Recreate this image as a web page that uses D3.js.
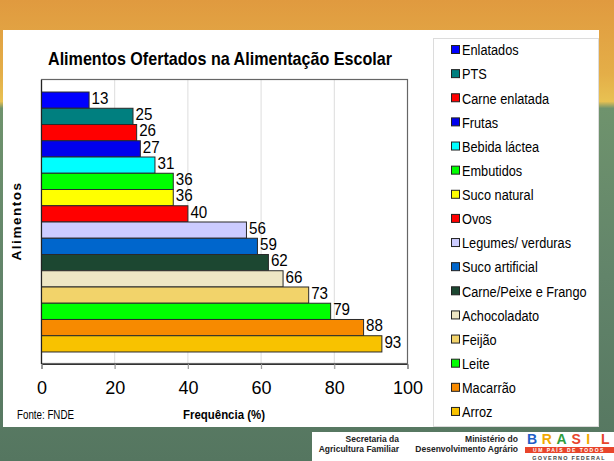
<!DOCTYPE html>
<html><head><meta charset="utf-8">
<script src="https://cdn.jsdelivr.net/npm/d3@7"></script>
<style>body{margin:0;padding:0;overflow:hidden;} svg{display:block;}</style>
</head><body><svg id="c" width="614" height="461"></svg>
<script>
const categories = ["Enlatados","PTS","Carne enlatada","Frutas","Bebida láctea","Embutidos","Suco natural","Ovos","Legumes/ verduras","Suco artificial","Carne/Peixe e Frango","Achocoladato","Feijão","Leite","Macarrão","Arroz"];
const values = [13,25,26,27,31,36,36,40,56,59,62,66,73,79,88,93];
const colors = ["#0000ff","#007f7f","#ff0000","#0000ee","#00ffff","#00ff00","#ffff00","#ff0000","#ccccff","#0066cc","#1c4731","#eee6c4","#f2d36a","#00ff00","#f78a00","#f8c200"];
const xTicks = [0,20,40,60,80,100];
const title = "Alimentos Ofertados na Alimentação Escolar";

const svg = d3.select("#c");
const F = "'Liberation Sans',Arial,sans-serif";
const NX = 0.85; // horizontal squeeze to imitate a narrow face

// background
const defs = svg.append("defs");
const g1 = defs.append("linearGradient").attr("id","bg").attr("x1",0).attr("y1",0).attr("x2",0).attr("y2",1);
[[0,"#e09a3f"],[0.16,"#e4ae48"],[0.22,"#e8c152"],[0.235,"#6f936d"],[0.6,"#62846a"],[1,"#557660"]].forEach(s=>g1.append("stop").attr("offset",s[0]).attr("stop-color",s[1]));
svg.append("rect").attr("width",614).attr("height",461).attr("fill","url(#bg)");

// white panel
svg.append("rect").attr("x",3).attr("y",30).attr("width",596).attr("height",397).attr("fill","#ffffff");
// legend box
svg.append("rect").attr("x",433.5).attr("y",38.5).attr("width",165).attr("height",388).attr("fill","#fff").attr("stroke","#dcdcdc");

const x = d3.scaleLinear().domain([0,100]).range([41,407]);
const y = d3.scaleBand().domain(categories).range([80,364]).paddingInner(0).paddingOuter(0.74);

// gridlines
svg.append("g").selectAll("line").data(xTicks.slice(1,5)).join("line")
  .attr("x1",d=>x(d)+0.5).attr("x2",d=>x(d)+0.5).attr("y1",80).attr("y2",369)
  .attr("stroke","#dddddd").attr("stroke-width",1);

// plot border
svg.append("rect").attr("x",41.5).attr("y",79.5).attr("width",x(100)-x(0)).attr("height",284)
  .attr("fill","none").attr("stroke","#666").attr("stroke-width",1.2);

// bars
svg.append("g").selectAll("rect").data(values).join("rect")
  .attr("x",x(0)+0.5).attr("y",(d,i)=>y(categories[i]))
  .attr("width",d=>x(d)-x(0)).attr("height",y.bandwidth())
  .attr("fill",(d,i)=>colors[i]).attr("stroke","#2a2a2a").attr("stroke-width",1);

// value labels
svg.append("g").selectAll("text").data(values).join("text")
  .attr("transform",(d,i)=>`translate(${x(d)+3},${y(categories[i])+y.bandwidth()/2-2}) scale(0.92,1)`)
  .attr("dy","0.35em").attr("font-family",F).attr("font-size",16.5).attr("fill","#000")
  .text(d=>d);

// x axis
const xa = svg.append("g").attr("transform","translate(0.5,364)")
  .call(d3.axisBottom(x).tickValues(xTicks).tickSize(5).tickPadding(12).tickFormat(d3.format("d")));
xa.select(".domain").attr("stroke","#333");
xa.selectAll(".tick line").attr("stroke","#999");
xa.selectAll("text").attr("font-family",F).attr("font-size",18).attr("fill","#000");

// left axis line
svg.append("line").attr("x1",41.5).attr("x2",41.5).attr("y1",80).attr("y2",364).attr("stroke","#222").attr("stroke-width",1.2);

// title
svg.append("text").attr("x",220).attr("y",65).attr("text-anchor","middle")
  .attr("font-family",F).attr("font-weight","bold").attr("font-size",19)
  .attr("textLength",344).attr("lengthAdjust","spacingAndGlyphs").text(title);

// y label
svg.append("text").attr("transform","translate(21,221) rotate(-90)").attr("text-anchor","middle")
  .attr("font-family",F).attr("font-weight","bold").attr("font-size",13.5)
  .attr("letter-spacing","1.5").text("Alimentos");

// x label & source
svg.append("text").attr("x",224).attr("y",419).attr("text-anchor","middle")
  .attr("font-family",F).attr("font-weight","bold").attr("font-size",13.5)
  .attr("textLength",82).attr("lengthAdjust","spacingAndGlyphs").text("Frequência (%)");
svg.append("text").attr("x",17).attr("y",419)
  .attr("font-family",F).attr("font-size",13.5)
  .attr("textLength",57).attr("lengthAdjust","spacingAndGlyphs").text("Fonte: FNDE");

// legend
const lg = svg.append("g").selectAll("g").data(categories).join("g")
  .attr("transform",(d,i)=>`translate(451,${50+i*24.13})`);
lg.append("rect").attr("x",0.5).attr("y",-4.5).attr("width",8).attr("height",8)
  .attr("fill",(d,i)=>colors[i]).attr("stroke","#222").attr("stroke-width",1);
lg.append("text").attr("transform",`translate(11,0) scale(${NX},1)`).attr("dy","0.35em")
  .attr("font-family",F).attr("font-size",15).text(d=>d);

// footer logos
svg.append("rect").attr("x",312).attr("y",432).attr("width",302).attr("height",29).attr("fill","#fff");
[["Secretaria da",399,442],["Agricultura Familiar",399,452],["Ministério do",518,442],["Desenvolvimento Agrário",518,452]].forEach(t=>{
  svg.append("text").attr("x",t[1]).attr("y",t[2]).attr("text-anchor","end")
    .attr("font-family",F).attr("font-weight","bold").attr("font-size",8.5).attr("fill","#222").text(t[0]);
});
const brasil = [["B","#1f5fc8"],["R","#f2a900"],["A","#2e9e3e"],["S","#e8452b"],["I","#f2a900"],["L","#e8452b"]];
brasil.forEach((b,i)=>{
  svg.append("text").attr("x",527+i*14.8).attr("y",443.5).attr("font-family",F).attr("font-weight","900")
    .attr("font-size",14).attr("fill",b[1]).text(b[0]);
});
svg.append("rect").attr("x",525).attr("y",447).attr("width",89).attr("height",6).attr("fill","#e8452b");
svg.append("text").attr("x",569).attr("y",452.3).attr("text-anchor","middle").attr("font-family",F)
  .attr("font-weight","bold").attr("font-size",5).attr("fill","#fff").attr("letter-spacing","1.5").text("UM PAÍS DE TODOS");
svg.append("text").attr("x",569).attr("y",459.5).attr("text-anchor","middle").attr("font-family",F)
  .attr("font-weight","bold").attr("font-size",5.5).attr("fill","#444").attr("letter-spacing","1.2").text("GOVERNO FEDERAL");
</script></body></html>
